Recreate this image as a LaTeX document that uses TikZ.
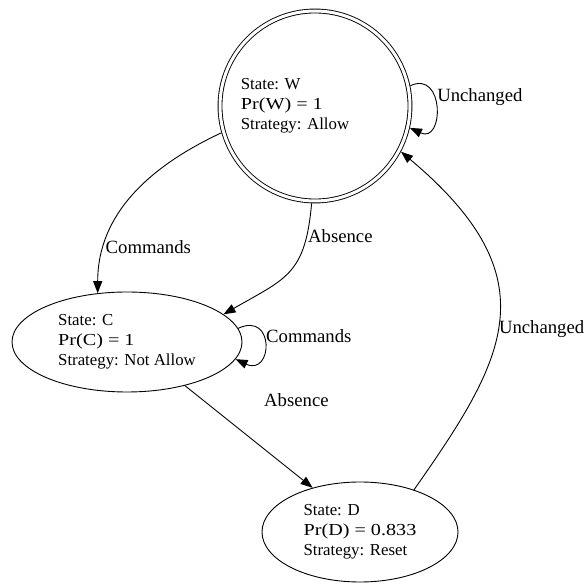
\documentclass[tikz,border=0pt]{standalone}
\usepackage{fontspec}
\setmainfont{Liberation Serif}
\newfontfamily\prfont[FakeStretch=1.2]{Liberation Serif}
\usetikzlibrary{
    arrows.meta,
    shapes.geometric
}
\tikzset{
    statenode/.style={draw, line width=0.9pt, inner sep=0pt, align=left},
    lbl/.style={font=\fontsize{18.7}{20}\selectfont, inner sep=1pt},
    >={Triangle[length=12pt, width=9pt]}
}

\begin{document}
\begin{tikzpicture}[x=1pt, y=1pt, line width=0.9pt, font=\fontsize{16.8}{20}\selectfont]
    \useasboundingbox (0, 0) rectangle (587, 584);

    \node[statenode, circle, double, double distance=3pt, minimum size=190pt, outer sep=2.4pt,
        label={[align=left, xshift=-20pt]center:{State: W\\{\prfont Pr(W) = 1}\\Strategy: Allow}}]
        (W) at (315, 478) {};
    \node[statenode, ellipse, minimum width=230pt, minimum height=100pt]
        (C) at (127, 242) {State: C\\{\prfont Pr(C) = 1}\\Strategy: Not Allow};
    \node[statenode, ellipse, minimum width=196pt, minimum height=100pt]
        (D) at (360, 52) {State: D\\{\prfont Pr(D) = 0.833}\\Strategy: Reset};

    \draw
    (W.12) edge[->, out=25, in=-25, looseness=2.3] node[lbl, pos=0.5, anchor=south west] {Unchanged} (W.-13)
    (W.196) edge[->, out=205, in=90] node[lbl, pos=0.79, anchor=west] {Commands} (C.121)
    (W.268) edge[->, out=265, in=30, looseness=1.3] node[lbl, pos=0.18, anchor=west] {Absence} (C.16)
    (C.7) edge[->, out=25, in=-25, looseness=3.4] node[lbl, pos=0.5, anchor=south west] {Commands} (C.-9)
    (C.-37) edge[->] node[lbl, pos=0.14, right=60pt] {Absence} (D.137)
    (D.38) edge[->, out=55, in=-40, out looseness=1.2, in looseness=1.5] node[lbl, pos=0.47, anchor=west] {Unchanged} (W.-28);
\end{tikzpicture}
\end{document}
